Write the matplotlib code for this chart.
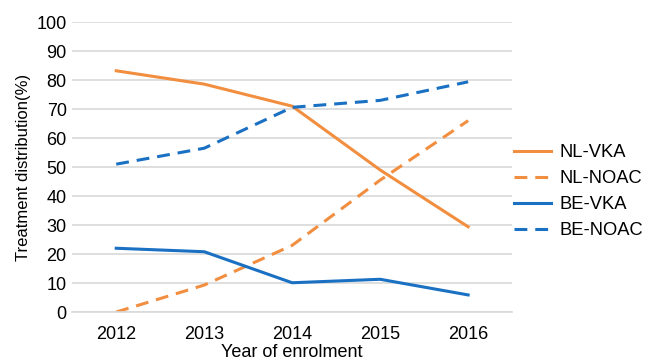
import matplotlib.pyplot as plt

plt.rcParams['font.family'] = ['Liberation Sans', 'DejaVu Sans']

years = ['2012', '2013', '2014', '2015', '2016']
nl_vka = [83.2, 78.6, 71.0, 49.0, 29.4]
nl_noac = [0.0, 9.3, 23.0, 45.5, 66.0]
be_vka = [22.0, 20.8, 10.1, 11.3, 5.9]
be_noac = [51.0, 56.5, 70.6, 73.0, 79.4]

orange = '#F28E3F'
blue = '#1A70C2'

fig = plt.figure(figsize=(6.45, 3.62), dpi=100)
ax = fig.add_axes([0.112, 0.138, 0.682, 0.801])

x = range(len(years))
dash = (0, (4.2, 2.6))
ax.plot(x, nl_vka, color=orange, lw=2.2, label='NL-VKA')
ax.plot(x, nl_noac, color=orange, lw=2.2, ls=dash, label='NL-NOAC')
ax.plot(x, be_vka, color=blue, lw=2.2, label='BE-VKA')
ax.plot(x, be_noac, color=blue, lw=2.2, ls=dash, label='BE-NOAC')

ax.set_xlim(-0.5, len(years) - 0.5)
ax.set_ylim(0, 100)
ax.set_yticks(range(0, 101, 10))
ax.set_xticks(list(x))
ax.set_xticklabels(years)
ax.grid(axis='y', color='#D9D9D9', lw=1.2)
ax.set_axisbelow(True)
for s in ['top', 'right', 'left']:
    ax.spines[s].set_visible(False)
ax.spines['bottom'].set_color('#D9D9D9')
ax.spines['bottom'].set_linewidth(1.2)
ax.tick_params(length=0, labelsize=13)
ax.tick_params(axis='y', pad=4)
ax.tick_params(axis='x', pad=10)

ax.set_ylabel('Treatment distribution(%)', fontsize=12, labelpad=4)
ax.set_xlabel('Year of enrolment', fontsize=13, labelpad=1)

ax.legend(loc='center left', bbox_to_anchor=(1.005, 0.415), frameon=False,
          fontsize=13.2, handlelength=2.0, handletextpad=0.45, labelspacing=0.5,
          borderaxespad=0, borderpad=0)

fig.savefig('out.png', dpi=100)
